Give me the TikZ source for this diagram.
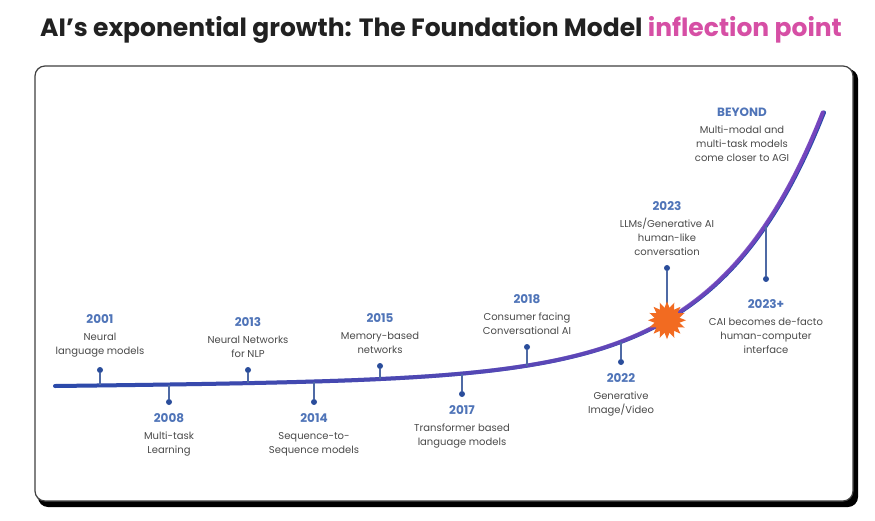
\documentclass[tikz,border=0pt]{standalone}
\usepackage{fontspec}
\setmainfont{Poppins}
\usetikzlibrary{positioning,shapes.geometric,fadings}

\definecolor{lineblue}{HTML}{2B4BAA}
\definecolor{linepurple}{HTML}{7645BE}
\definecolor{dotblue}{HTML}{2A4D9B}
\definecolor{stemblue}{HTML}{4F6AA5}
\definecolor{yearblue}{HTML}{4F74B8}
\definecolor{labelgrey}{HTML}{4A4A4A}
\definecolor{titlepink}{HTML}{D64FA5}
\definecolor{burst}{HTML}{F26B21}

\tikzfading[name=fade in east, left color=transparent!100, middle color=transparent!75, right color=transparent!0]

\newcommand{\yr}[1]{{\fontsize{12}{14}\selectfont\bfseries\color{yearblue}#1}}

\begin{document}
\begin{tikzpicture}[x=1pt, y=-1pt,
    declare function={grow(\x)=386-0.01*(\x-55)-266*exp(0.0095*(\x-824))+0.18;},
    dot/.style={circle, fill=dotblue, inner sep=0pt, minimum size=6pt},
    stem/.style={draw=stemblue, line width=1.3pt},
    item/.style={align=center, inner sep=0pt, font=\fontsize{10}{14}\selectfont, text=labelgrey},
    growth/.style={line width=4pt, line cap=round}
]
\useasboundingbox[fill=white] (0,0) rectangle (875,521);

% heading
\node[anchor=west, inner sep=0pt, font=\bfseries\fontsize{25}{30}\selectfont, text=black!87] (title) at (40,30)
    {AI’s exponential growth: The Foundation Model \textcolor{titlepink}{inflection point}};

% card with a heavy edge on the right and bottom
\fill[black, rounded corners=10pt] (38,69) rectangle (858,507);
\draw[fill=white, draw=black!75, line width=1.2pt, rounded corners=10pt] (35,66) rectangle (853,501);

% growth curve, blue fading into purple
\draw[growth, lineblue] plot[domain=55:824, samples=120, smooth] (\x,{grow(\x)});
\draw[growth, linepurple, path fading=fade in east] plot[domain=55:824, samples=120, smooth] (\x,{grow(\x)});

% points on the curve
\coordinate (p2001) at (100,{grow(100)});
\coordinate (p2008) at (169,{grow(169)});
\coordinate (p2013) at (248,{grow(248)});
\coordinate (p2014) at (314,{grow(314)});
\coordinate (p2015) at (380,{grow(380)});
\coordinate (p2017) at (462,{grow(462)});
\coordinate (p2018) at (527,{grow(527)});
\coordinate (p2022) at (621,{grow(621)});
\coordinate (p2023) at (667,{grow(667)});
\coordinate (p2023p) at (766,{grow(766)});

% markers
\node[dot] (d2001) at (100,370) {};
\node[dot] (d2008) at (169,402) {};
\node[dot] (d2013) at (248,370) {};
\node[dot] (d2014) at (314,402) {};
\node[dot] (d2015) at (380,366) {};
\node[dot] (d2017) at (462,394) {};
\node[dot] (d2018) at (527,347) {};
\node[dot] (d2022) at (621,362) {};
\node[dot] (d2023) at (667,268) {};
\node[dot] (d2023p) at (766,279) {};

\draw[stem] (p2001) -- (d2001);
\draw[stem] (p2008) -- (d2008);
\draw[stem] (p2013) -- (d2013);
\draw[stem] (p2014) -- (d2014);
\draw[stem] (p2015) -- (d2015);
\draw[stem] (p2017) -- (d2017);
\draw[stem] (p2018) -- (d2018);
\draw[stem] (p2022) -- (d2022);
\draw[stem] (p2023) -- (d2023);
\draw[stem] (p2023p) -- (d2023p);

% the inflection point
\node[star, star points=16, star point ratio=1.5, minimum size=38pt, inner sep=0pt, fill=burst] (burst) at (p2023) {};

% labels
\node[item, above=9pt of d2001] (t2001) {\yr{2001}\\[3pt]Neural\\language models};
\node[item, below=8pt of d2008] (t2008) {\yr{2008}\\[3pt]Multi-task\\Learning};
\node[item, above=9pt of d2013] (t2013) {\yr{2013}\\[3pt]Neural Networks\\for NLP};
\node[item, below=8pt of d2014] (t2014) {\yr{2014}\\[3pt]Sequence-to-\\Sequence models};
\node[item, above=9pt of d2015] (t2015) {\yr{2015}\\[3pt]Memory-based\\networks};
\node[item, below=8pt of d2017] (t2017) {\yr{2017}\\[3pt]Transformer based\\language models};
\node[item, above=9pt of d2018] (t2018) {\yr{2018}\\[3pt]Consumer facing\\Conversational AI};
\node[item, below=8pt of d2022] (t2022) {\yr{2022}\\[3pt]Generative\\Image/Video};
\node[item, above=9pt of d2023] (t2023) {\yr{2023}\\[3pt]LLMs/Generative AI\\human-like\\conversation};
\node[item, below=17pt of d2023p] (t2023p) {\yr{2023+}\\[3pt]CAI becomes de-facto\\human-computer\\interface};
\node[item, anchor=north] (tbeyond) at (742,108) {\yr{BEYOND}\\[3pt]Multi-modal and\\multi-task models\\come closer to AGI};
\end{tikzpicture}
\end{document}
